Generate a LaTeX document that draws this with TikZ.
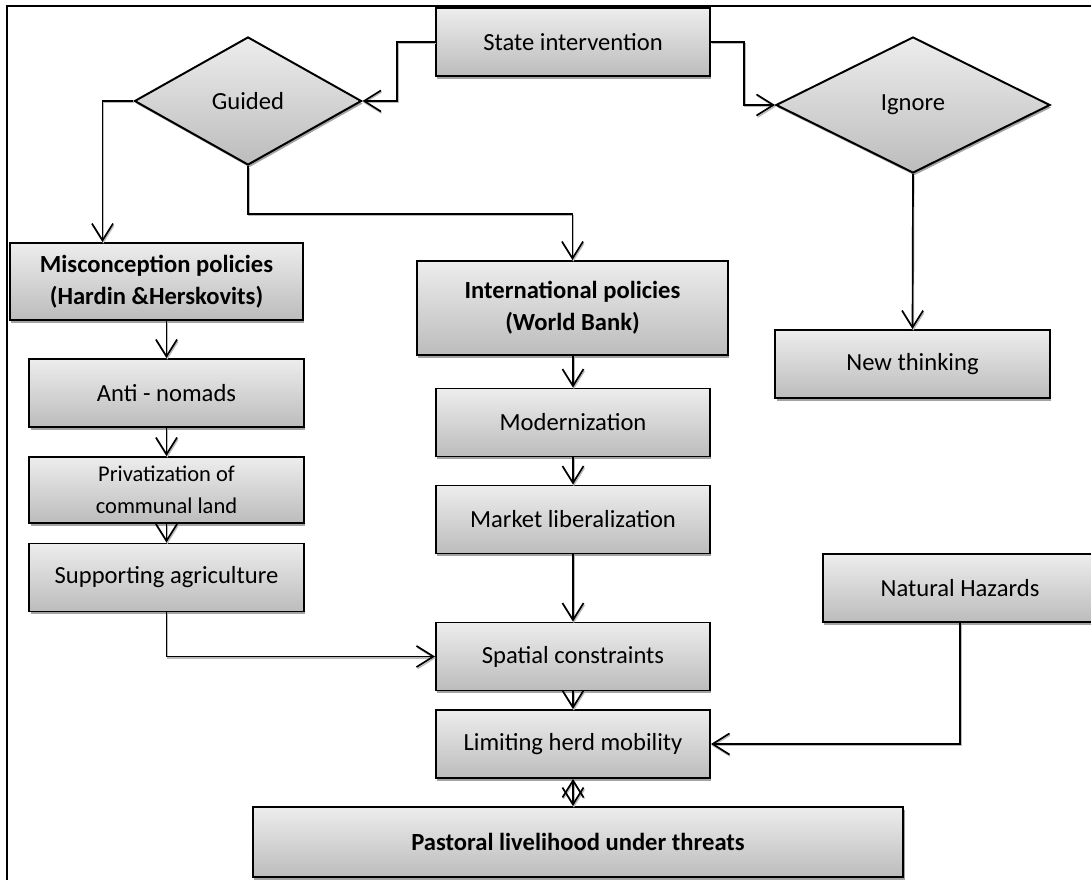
\documentclass[tikz,border=0pt]{standalone}
\usepackage{fontspec}
\setmainfont{Carlito}
\usetikzlibrary{arrows.meta,shapes.geometric,shadows}

\definecolor{boxTop}{HTML}{EDEDED}
\definecolor{boxBot}{HTML}{BCBCBC}
\definecolor{shade}{HTML}{8C8C8C}

\begin{document}
\begin{tikzpicture}[
    x=0.025cm, y=-0.025cm,
    box/.style={draw, line width=1.4pt, top color=boxTop, bottom color=boxBot,
        drop shadow={shadow xshift=1pt, shadow yshift=-1.8pt, fill=shade, opacity=0.8},
        minimum width=6.85cm, minimum height=1.7cm, inner sep=2pt, align=center,
        font=\fontsize{17.5}{23}\selectfont},
    bold/.style={font=\fontsize{17.5}{23}\selectfont\bfseries},
    dec/.style={box, diamond, shape aspect=1.8, inner sep=0pt},
    arr/.style={line width=1.2pt, -{Straight Barb[length=12pt,width=15pt]},
        preaction={draw=shade!60, line width=1pt,
            transform canvas={xshift=0.6pt, yshift=-1.1pt}}},
]

\useasboundingbox (0,0) rectangle (1091,880);

% Frame
\draw[line width=2pt] (7,880) -- (7,6) -- (1091,6);

% Top: state and the two choices
\node[box] (state) at (573,42) {State intervention};
\node[dec, minimum width=5.675cm, minimum height=3.2cm] (guided) at (248,101) {Guided};
\node[dec, minimum width=6.85cm, minimum height=3.4cm] (ignore) at (913,105) {Ignore};

% Left column: misconception policies
\node[box, bold, minimum width=7.325cm, minimum height=1.925cm]
    (misc) at (156.5,281.5) {Misconception policies\\(Hardin \&Herskovits)};
\node[box] (anti) at (166.5,393) {Anti - nomads};
\node[box, font=\fontsize{16}{23}\selectfont, minimum height=1.65cm]
    (priv) at (166.5,490) {Privatization of\\communal land};
\node[box] (supp) at (166.5,577.5) {Supporting agriculture};

% Middle column: international policies
\node[box, bold, minimum width=7.775cm, minimum height=2.35cm]
    (intl) at (572.5,308) {International policies\\(World Bank)};
\node[box] (modern) at (573,422.5) {Modernization};
\node[box] (market) at (573,519.5) {Market liberalization};
\node[box] (spatial) at (573,656.5) {Spatial constraints};
\node[box] (limit) at (573,744) {Limiting herd mobility};
\node[box, bold, minimum width=16.25cm, minimum height=1.75cm]
    (pastoral) at (578,842) {Pastoral livelihood under threats};

% Right column
\node[box] (newthink) at (912.5,364) {New thinking};
\node[box] (natural) at (960,588) {Natural Hazards};

% Connectors
\draw[arr] (state.west) -- ++(-38,0) |- (guided.east);
\draw[arr] (state.east) -- ++(33,0) |- (ignore.west);
\draw[arr] (guided.west) -- ++(-31,0) coordinate (gw) -- (gw |- misc.north);
\draw[arr] (guided.south) -- ++(0,48) -| (intl.north);
\draw[arr] (ignore.south) -- (newthink.north);

\draw[arr] (misc.south -| anti.north) -- (anti.north);
\draw[arr] (anti.south) -- (priv.north);
\draw[arr] (priv.south) -- (supp.north);
\draw[arr] (supp.south) |- (spatial.west);

\draw[arr] (intl.south -| modern.north) -- (modern.north);
\draw[arr] (modern.south) -- (market.north);
\draw[arr] (market.south) -- (spatial.north);
\draw[arr] (spatial.south) -- (limit.north);
\draw[arr] (natural.south) |- (limit.east);
\draw[arr, {Straight Barb[length=12pt,width=15pt]}-{Straight Barb[length=12pt,width=15pt]}]
    (limit.south) -- (limit.south |- pastoral.north);

\end{tikzpicture}
\end{document}
